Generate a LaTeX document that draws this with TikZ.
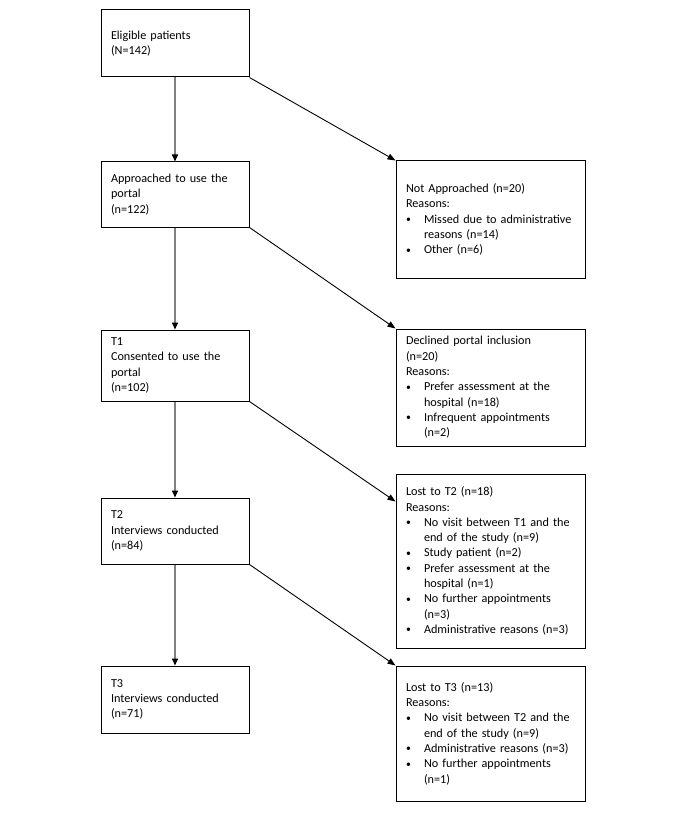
\documentclass[tikz,border=0pt]{standalone}
\usepackage{fontspec}
\setmainfont{Carlito}
\usetikzlibrary{arrows.meta,calc}
\newcommand{\bl}{\makebox[18pt][l]{\raisebox{0.5pt}{\scalebox{0.8}{\textbullet}}}}
\newcommand{\ct}{\hspace*{18pt}}
\begin{document}
\begin{tikzpicture}[x=1pt,y=-1pt,
  lbox/.style={draw=black,line width=1pt,rectangle,inner xsep=10pt,inner ysep=0pt,
     minimum width=148pt,text width=128pt,align=left,font=\fontsize{12.2}{15.3}\selectfont},
  rbox/.style={draw=black,line width=1pt,rectangle,inner xsep=10pt,inner ysep=0pt,
     minimum width=187pt,text width=169pt,align=left,font=\fontsize{12.2}{15.3}\selectfont},
  varrow/.style={draw=black!50,line width=1.5pt,-{Triangle[length=7pt,width=6pt,color=black]}},
  darrow/.style={draw=black,line width=0.9pt,-{Triangle[length=8pt,width=6pt]}}]
\useasboundingbox[fill=white] (0,0) rectangle (678,813);
\node[lbox,minimum height=67pt] (L1) at (175,43.5) {Eligible patients\\(N=142)};
\node[lbox,minimum height=65pt] (L2) at (175,194.5) {Approached to use the\\portal\\(n=122)};
\node[lbox,minimum height=71pt] (L3) at (175,365.5) {T1\\Consented to use the\\portal\\(n=102)};
\node[lbox,minimum height=66pt] (L4) at (175,531) {T2\\Interviews conducted\\(n=84)};
\node[lbox,minimum height=67pt] (L5) at (175,699.5) {T3\\Interviews conducted\\(n=71)};
\node[rbox,minimum height=117pt] (R1) at (490.5,219.5) {Not Approached (n=20)\\Reasons:\\\bl Missed due to administrative\\\ct reasons (n=14)\\\bl Other (n=6)};
\node[rbox,minimum height=117pt] (R2) at (490.5,387.5) {Declined portal inclusion\\(n=20)\\Reasons:\\\bl Prefer assessment at the\\\ct hospital (n=18)\\\bl Infrequent appointments\\\ct (n=2)};
\node[rbox,minimum height=174pt] (R3) at (490.5,561) {Lost to T2 (n=18)\\Reasons:\\\bl No visit between T1 and the\\\ct end of the study (n=9)\\\bl Study patient (n=2)\\\bl Prefer assessment at the\\\ct hospital (n=1)\\\bl No further appointments\\\ct (n=3)\\\bl Administrative reasons (n=3)};
\node[rbox,minimum height=135pt] (R4) at (490.5,733.5) {Lost to T3 (n=13)\\Reasons:\\\bl No visit between T2 and the\\\ct end of the study (n=9)\\\bl Administrative reasons (n=3)\\\bl No further appointments\\\ct (n=1)};
\coordinate (R3in) at ($(R3.north west)+(0,28)$);
\draw[varrow] (L1.south) -- (L2.north);
\draw[varrow] (L2.south) -- (L3.north);
\draw[varrow] (L3.south) -- (L4.north);
\draw[varrow] (L4.south) -- (L5.north);
\draw[darrow] (L1.south east) -- (R1.north west);
\draw[darrow] (L2.south east) -- (R2.north west);
\draw[darrow] (L3.south east) -- (R3in);
\draw[darrow] (L4.south east) -- (R4.north west);
\end{tikzpicture}
\end{document}
